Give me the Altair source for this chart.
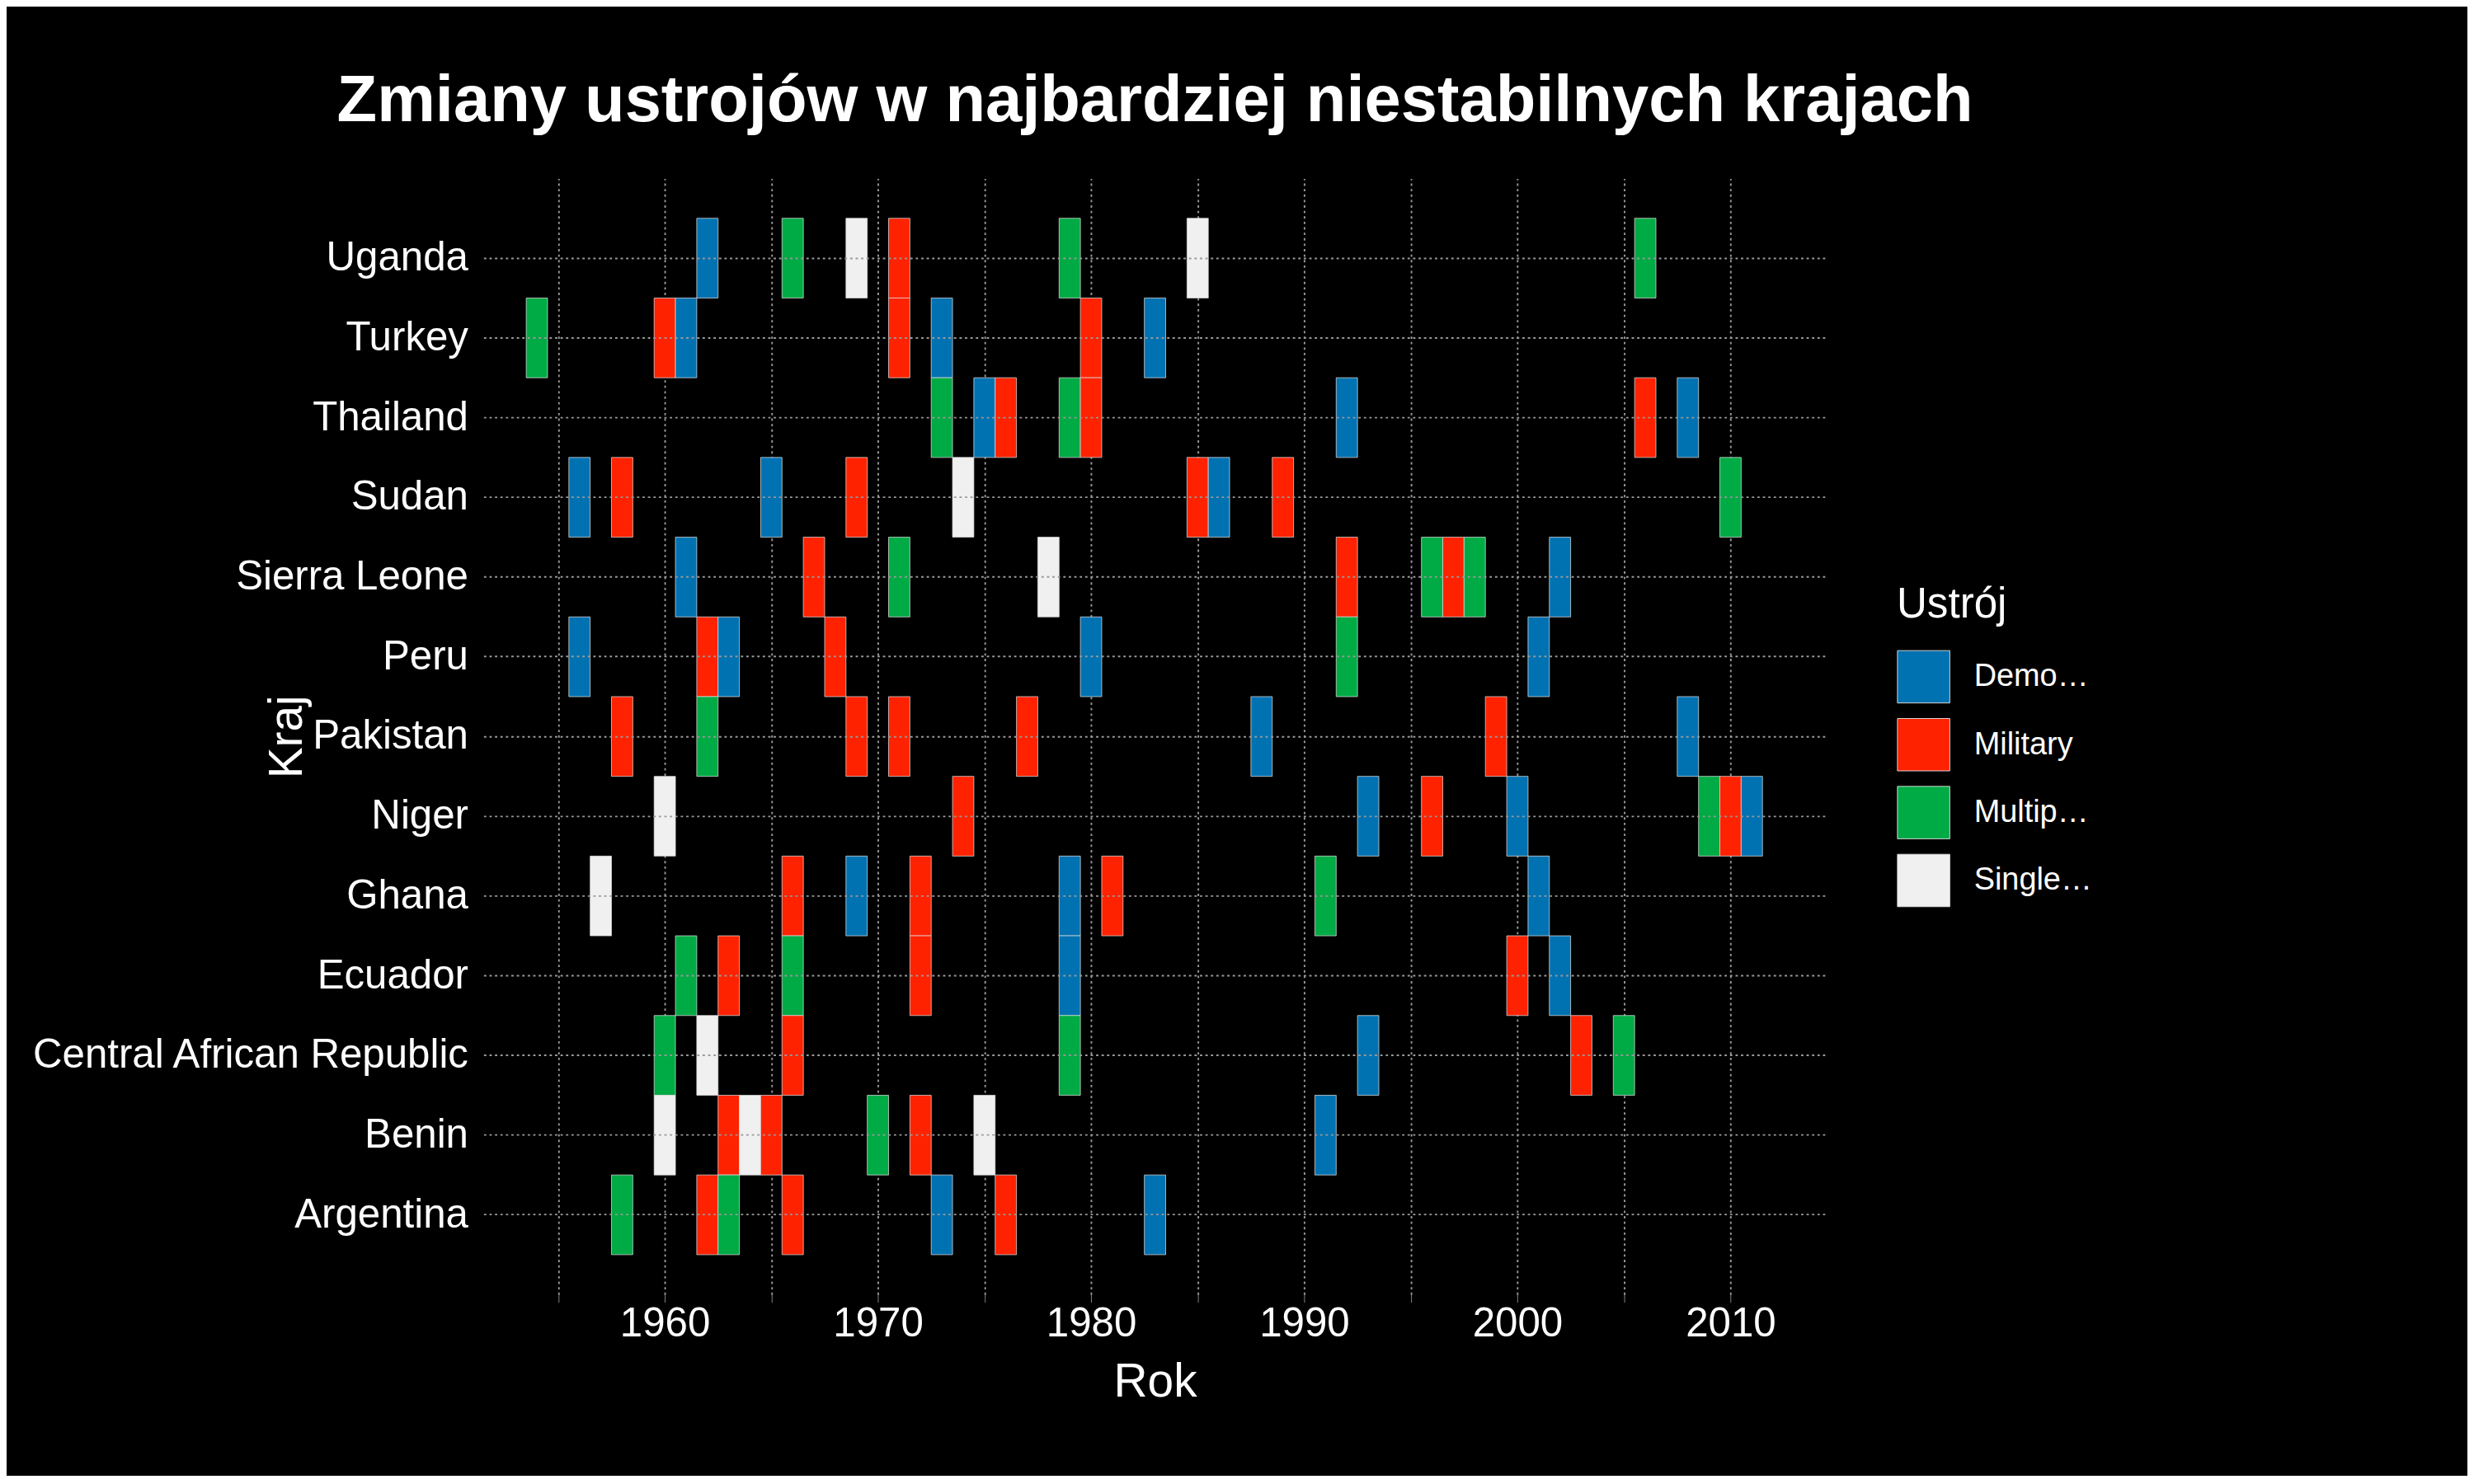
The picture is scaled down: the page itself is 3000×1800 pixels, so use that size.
import pandas as pd
import altair as alt

countries = ["Argentina", "Benin", "Central African Republic", "Ecuador", "Ghana", "Niger",
             "Pakistan", "Peru", "Sierra Leone", "Sudan", "Thailand", "Turkey", "Uganda"]

# (year, regime) per country
events = {
    "Uganda": [(1962, "Democracy"), (1966, "Multiparty"), (1969, "Single Party"), (1971, "Military"),
               (1979, "Multiparty"), (1985, "Single Party"), (2006, "Multiparty")],
    "Turkey": [(1954, "Multiparty"), (1960, "Military"), (1961, "Democracy"), (1971, "Military"),
               (1973, "Democracy"), (1980, "Military"), (1983, "Democracy")],
    "Thailand": [(1973, "Multiparty"), (1975, "Democracy"), (1976, "Military"), (1979, "Multiparty"),
                 (1980, "Military"), (1992, "Democracy"), (2006, "Military"), (2008, "Democracy")],
    "Sudan": [(1956, "Democracy"), (1958, "Military"), (1965, "Democracy"), (1969, "Military"),
              (1974, "Single Party"), (1985, "Military"), (1986, "Democracy"), (1989, "Military"),
              (2010, "Multiparty")],
    "Sierra Leone": [(1961, "Democracy"), (1967, "Military"), (1971, "Multiparty"), (1978, "Single Party"),
                     (1992, "Military"), (1996, "Multiparty"), (1997, "Military"), (1998, "Multiparty"),
                     (2002, "Democracy")],
    "Peru": [(1956, "Democracy"), (1962, "Military"), (1963, "Democracy"), (1968, "Military"),
             (1980, "Democracy"), (1992, "Multiparty"), (2001, "Democracy")],
    "Pakistan": [(1958, "Military"), (1962, "Multiparty"), (1969, "Military"), (1971, "Military"),
                 (1977, "Military"), (1988, "Democracy"), (1999, "Military"), (2008, "Democracy")],
    "Niger": [(1960, "Single Party"), (1974, "Military"), (1993, "Democracy"), (1996, "Military"),
              (2000, "Democracy"), (2009, "Multiparty"), (2010, "Military"), (2011, "Democracy")],
    "Ghana": [(1957, "Single Party"), (1966, "Military"), (1969, "Democracy"), (1972, "Military"),
              (1979, "Democracy"), (1981, "Military"), (1991, "Multiparty"), (2001, "Democracy")],
    "Ecuador": [(1961, "Multiparty"), (1963, "Military"), (1966, "Multiparty"), (1972, "Military"),
                (1979, "Democracy"), (2000, "Military"), (2002, "Democracy")],
    "Central African Republic": [(1960, "Multiparty"), (1962, "Single Party"), (1966, "Military"),
                                 (1979, "Multiparty"), (1993, "Democracy"), (2003, "Military"),
                                 (2005, "Multiparty")],
    "Benin": [(1960, "Single Party"), (1963, "Military"), (1964, "Single Party"), (1965, "Military"),
              (1970, "Multiparty"), (1972, "Military"), (1975, "Single Party"), (1991, "Democracy")],
    "Argentina": [(1958, "Multiparty"), (1962, "Military"), (1963, "Multiparty"), (1966, "Military"),
                  (1973, "Democracy"), (1976, "Military"), (1983, "Democracy")],
}

regimes = ["Democracy", "Military", "Multiparty", "Single Party"]
colors = ["#0072B2", "#FF2200", "#00AA44", "#F0F0F0"]

rows = []
for c, evs in events.items():
    for yr, r in evs:
        rows.append({"Kraj": c, "Ustrój": r, "start": yr - 0.5, "end": yr + 0.5})
df = pd.DataFrame(rows)

grid_style = dict(gridDash=[3, 4], gridColor="#999999", gridWidth=2)

chart = (
    alt.Chart(df)
    .mark_rect(stroke="#dddddd", strokeWidth=0.8)
    .encode(
        x=alt.X("start:Q", title="Rok",
                scale=alt.Scale(domain=[1951.5, 2014.5], nice=False, zero=False),
                axis=alt.Axis(values=list(range(1955, 2015, 5)),
                              labelExpr="datum.value % 10 == 0 ? datum.value : ''",
                              tickColor="#888888", tickSize=10, domain=False, **grid_style)),
        x2="end:Q",
        y=alt.Y("Kraj:N", title="Kraj", sort=sorted(countries, reverse=True),
                scale=alt.Scale(paddingInner=0, paddingOuter=0.5),
                axis=alt.Axis(grid=True, ticks=False, domain=False, labelPadding=20,
                              labelLimit=1000, bandPosition=0.5, **grid_style)),
        color=alt.Color("Ustrój:N", scale=alt.Scale(domain=regimes, range=colors),
                        legend=alt.Legend(title="Ustrój", orient="none",
                                          legendX=1810, legendY=520)),
    )
    .properties(
        width=1720, height=1430,
        background="black",
        title=alt.Title("Zmiany ustrojów w najbardziej niestabilnych krajach",
                        fontSize=84, color="white", font="Liberation Sans",
                        fontWeight="bold", offset=55),
        padding={"left": 30, "top": 30, "right": 480, "bottom": 40},
    )
    .configure_view(strokeWidth=0)
    .configure_axis(labelColor="white", titleColor="white", labelFont="Liberation Sans",
                    titleFont="Liberation Sans", labelFontSize=52, titleFontSize=60,
                    titleFontWeight="normal", titlePadding=20)
    .configure_legend(labelColor="white", titleColor="white", labelFont="Liberation Sans",
                      titleFont="Liberation Sans", labelFontSize=40, titleFontSize=54,
                      titleFontWeight="normal", symbolType="square", symbolSize=4500,
                      symbolStrokeColor="#dddddd", symbolStrokeWidth=1, rowPadding=14,
                      labelOffset=30, titlePadding=30)
)

chart.save("out.html", embed_options={"renderer": "svg", "actions": False})
